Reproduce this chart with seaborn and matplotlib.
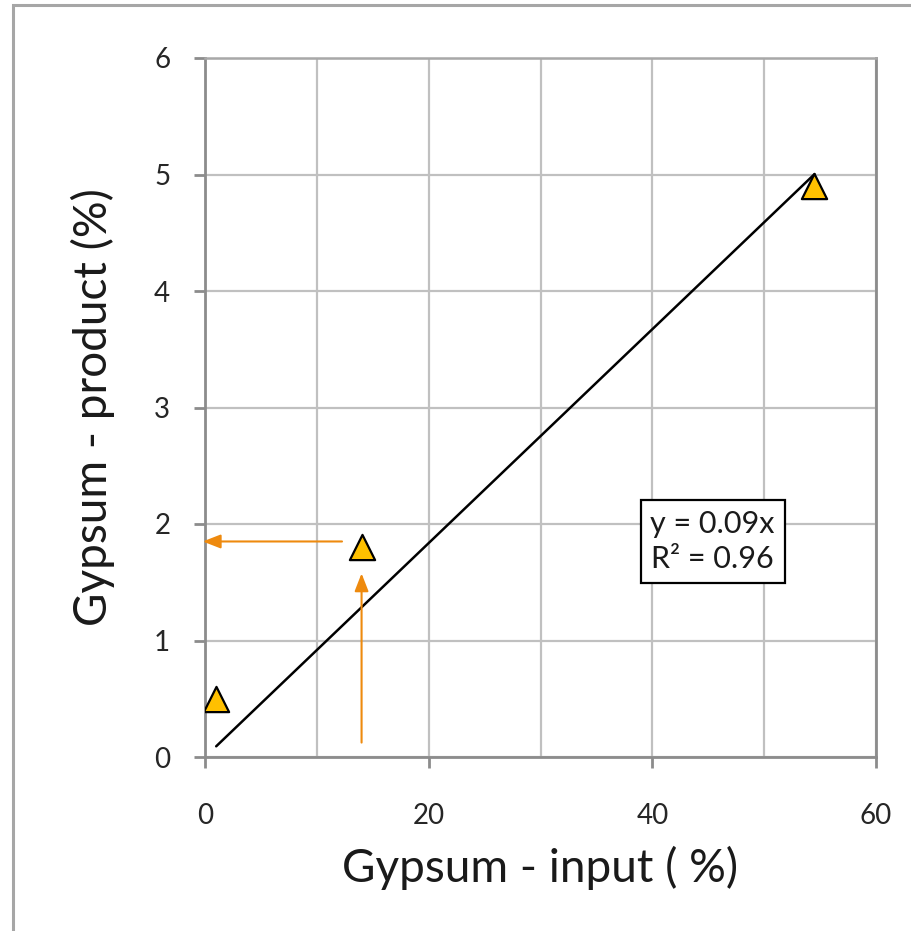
import matplotlib
matplotlib.use("Agg")
import matplotlib.pyplot as plt
import seaborn as sns
import pandas as pd
import numpy as np
from matplotlib.patches import Rectangle

# Measured gypsum content: feed vs. product
gypsum_input = [1.0, 14.0, 54.5]
gypsum_product = [0.5, 1.8, 4.9]

# Regression through the origin (as reported in the label)
slope = 0.0918
fit_x = [1.0, 54.5]
equation_text = "y = 0.09x\nR² = 0.96"

# Reading guide for the middle sample
guide_y = 1.85
guide_x = 14.0

x_ticks = [0, 20, 40, 60]
y_ticks = [0, 1, 2, 3, 4, 5, 6]

sns.set_theme(style="white")
plt.rcParams["font.family"] = ["Lato", "DejaVu Sans"]

fig = plt.figure(figsize=(9.11, 9.31), dpi=100)
ax = fig.add_axes([205 / 911, 1 - 757 / 931, 671 / 911, 699 / 931])

df = pd.DataFrame({"input": gypsum_input, "product": gypsum_product})

# Trend line
fx = np.array(fit_x)
sns.lineplot(x=fx, y=slope * fx, ax=ax, color="black", linewidth=1.8, zorder=3)

# Samples
sns.scatterplot(data=df, x="input", y="product", ax=ax, marker="^", s=330,
                color="#FFC000", edgecolor="black", linewidth=1.6, zorder=4)

orange = "#EE8A0E"
ax.annotate("", xy=(-0.45, guide_y), xytext=(12.5, guide_y),
            arrowprops=dict(arrowstyle="-|>,head_length=0.9,head_width=0.35",
                            color=orange, lw=1.5), zorder=5, annotation_clip=False)
ax.annotate("", xy=(guide_x, 1.6), xytext=(guide_x, 0.1),
            arrowprops=dict(arrowstyle="-|>,head_length=0.9,head_width=0.35",
                            color=orange, lw=1.5), zorder=5)

ax.text(45.4, 1.85, equation_text, ha="center", va="center", fontsize=22,
        color="#1a1a1a", linespacing=1.3,
        bbox=dict(boxstyle="square,pad=0.32", facecolor="white",
                  edgecolor="black", linewidth=1.6), zorder=6)

ax.set_xlim(0, 60)
ax.set_ylim(0, 6)
ax.set_xticks(np.arange(0, 61, 10), minor=True)
ax.set_xticks(x_ticks)
ax.set_yticks(y_ticks)
ax.grid(True, which="both", color="#C0C0C0", linewidth=1.6)
ax.set_axisbelow(True)

for side in ["left", "bottom", "right"]:
    ax.spines[side].set_color("#8C8C8C")
    ax.spines[side].set_linewidth(2.0)
ax.spines["top"].set_color("#A8A8A8")
ax.spines["top"].set_linewidth(1.8)

ax.tick_params(axis="both", which="major", direction="out", length=8, width=2,
               color="#8C8C8C", labelsize=20, labelcolor="#262626")
ax.tick_params(axis="x", which="major", pad=25)
ax.tick_params(axis="y", which="major", pad=17)
ax.tick_params(axis="x", which="minor", length=0)
ax.tick_params(left=True, bottom=True)

ax.set_xlabel("Gypsum - input ( %)", fontsize=33, color="#1a1a1a", labelpad=12)
ax.set_ylabel("Gypsum - product (%)", fontsize=33, color="#1a1a1a", labelpad=28)

# Outer frame
fig.patches.append(Rectangle((13 / 911, -0.05), 1.2, 1 - 5 / 931 + 0.05,
                             transform=fig.transFigure, fill=False,
                             edgecolor="#A6A6A6", linewidth=2.2))

fig.savefig("out.png", dpi=100)
